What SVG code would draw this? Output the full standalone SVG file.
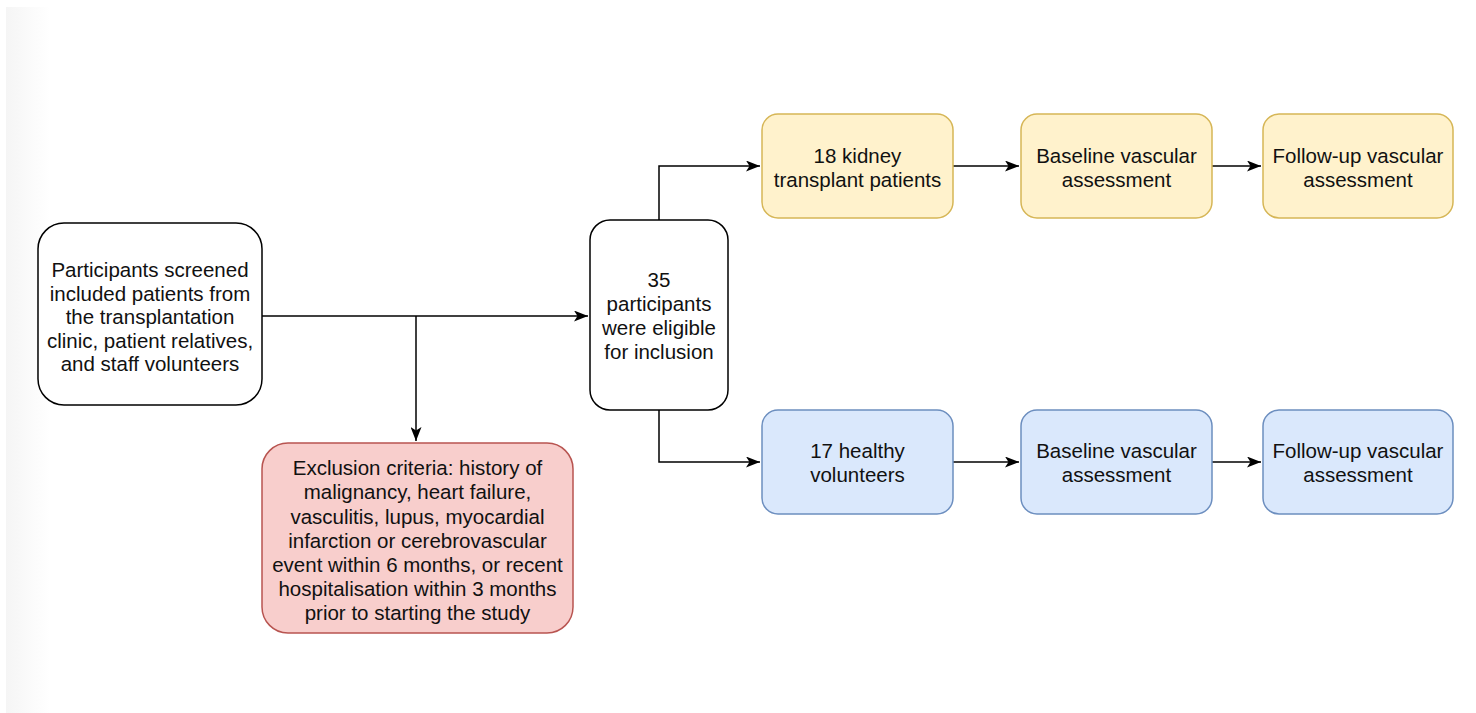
<svg xmlns="http://www.w3.org/2000/svg" width="1476" height="713" viewBox="0 0 1476 713">
<defs>
<linearGradient id="edge" x1="0" y1="0" x2="1" y2="0">
<stop offset="0" stop-color="#f5f5f5"/>
<stop offset="1" stop-color="#ffffff"/>
</linearGradient>
<marker id="arr" viewBox="0 0 14 11" refX="14" refY="5.5" markerWidth="14" markerHeight="11" markerUnits="userSpaceOnUse" orient="auto">
<path d="M0,0 L14,5.5 L0,11 L3.5,5.5 Z" fill="#000"/>
</marker>
<style>
text{font-family:"Liberation Sans",Arial,Helvetica,sans-serif;font-size:20.5px;fill:#111;text-anchor:middle}
.w{fill:#fff;stroke:#000;stroke-width:1.5}
.y{fill:#fff2cc;stroke:#d6b656;stroke-width:1.5}
.b{fill:#dae8fc;stroke:#6c8ebf;stroke-width:1.5}
.r{fill:#f8cecc;stroke:#b85450;stroke-width:1.5}
.c{fill:none;stroke:#000;stroke-width:1.5}
</style>
</defs>
<rect width="1476" height="713" fill="#fff"/>
<rect x="6" y="7" width="44" height="706" fill="url(#edge)"/>
<g id="connectors">
<path class="c" d="M262,316 H588" marker-end="url(#arr)"/>
<path class="c" d="M416,316 V441" marker-end="url(#arr)"/>
<path class="c" d="M659,220 V166 H760" marker-end="url(#arr)"/>
<path class="c" d="M659,410 V462 H760" marker-end="url(#arr)"/>
<path class="c" d="M953,166 H1019" marker-end="url(#arr)"/>
<path class="c" d="M1212,166 H1261" marker-end="url(#arr)"/>
<path class="c" d="M953,462 H1019" marker-end="url(#arr)"/>
<path class="c" d="M1212,462 H1261" marker-end="url(#arr)"/>
</g>
<g id="screened">
<rect class="w" x="38" y="223" width="224" height="182" rx="26"/>
<text x="150" y="277">Participants screened</text>
<text x="150" y="300.5">included patients from</text>
<text x="150" y="324">the transplantation</text>
<text x="150" y="347.5">clinic, patient relatives,</text>
<text x="150" y="371">and staff volunteers</text>
</g>
<g id="exclusion">
<rect class="r" x="262" y="443" width="311" height="190" rx="26"/>
<text x="417.5" y="475">Exclusion criteria: history of</text>
<text x="417.5" y="499">malignancy, heart failure,</text>
<text x="417.5" y="523.5">vasculitis, lupus, myocardial</text>
<text x="417.5" y="548">infarction or cerebrovascular</text>
<text x="417.5" y="572">event within 6 months, or recent</text>
<text x="417.5" y="596">hospitalisation within 3 months</text>
<text x="417.5" y="620">prior to starting the study</text>
</g>
<g id="eligible">
<rect class="w" x="590" y="220" width="138" height="190" rx="20"/>
<text x="659" y="287">35</text>
<text x="659" y="311">participants</text>
<text x="659" y="335">were eligible</text>
<text x="659" y="359">for inclusion</text>
</g>
<g id="kidney">
<rect class="y" x="762" y="114" width="191" height="104" rx="16"/>
<text x="857.5" y="163">18 kidney</text>
<text x="857.5" y="187">transplant patients</text>
</g>
<g id="kidney-baseline">
<rect class="y" x="1021" y="114" width="191" height="104" rx="16"/>
<text x="1116.5" y="163">Baseline vascular</text>
<text x="1116.5" y="187">assessment</text>
</g>
<g id="kidney-followup">
<rect class="y" x="1263" y="114" width="190" height="104" rx="16"/>
<text x="1358" y="163">Follow-up vascular</text>
<text x="1358" y="187">assessment</text>
</g>
<g id="healthy">
<rect class="b" x="762" y="410" width="191" height="104" rx="16"/>
<text x="857.5" y="458">17 healthy</text>
<text x="857.5" y="482">volunteers</text>
</g>
<g id="healthy-baseline">
<rect class="b" x="1021" y="410" width="191" height="104" rx="16"/>
<text x="1116.5" y="458">Baseline vascular</text>
<text x="1116.5" y="482">assessment</text>
</g>
<g id="healthy-followup">
<rect class="b" x="1263" y="410" width="190" height="104" rx="16"/>
<text x="1358" y="458">Follow-up vascular</text>
<text x="1358" y="482">assessment</text>
</g>
</svg>
